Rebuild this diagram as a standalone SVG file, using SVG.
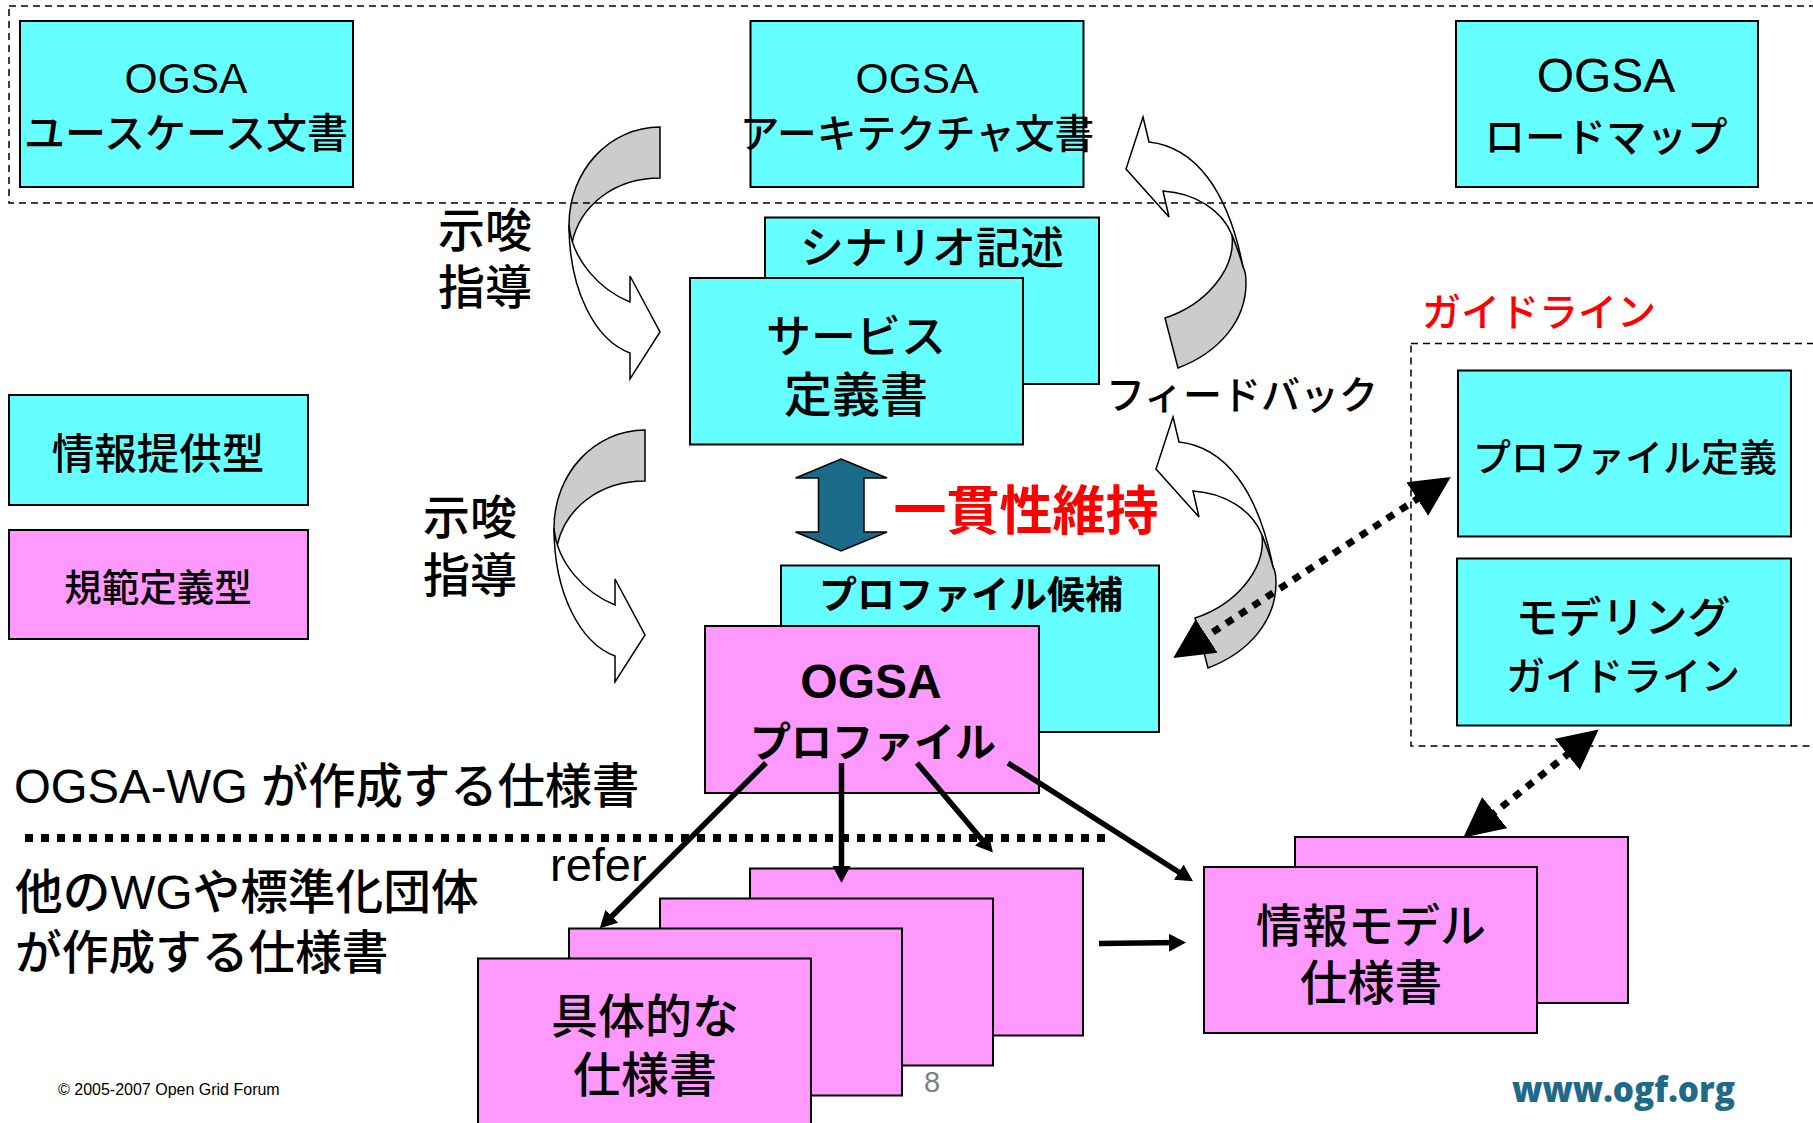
<svg xmlns="http://www.w3.org/2000/svg" width="1813" height="1123" viewBox="0 0 1813 1123">
<style>
.c{fill:#66FFFF;stroke:#000;stroke-width:2}
.p{fill:#FF99FF;stroke:#000;stroke-width:2}
text{font-family:"Liberation Sans","Noto Sans CJK JP",sans-serif;fill:#000;font-weight:500}
.m{text-anchor:middle}
text.b{font-weight:bold}
.r{fill:#FF0000}
.dash{fill:none;stroke:#000;stroke-width:1.5;stroke-dasharray:7 5}
.g{fill:#CCCCCC;stroke:#000;stroke-width:1.5}
.w{fill:#FFFFFF;stroke:#000;stroke-width:1.5}
.l{fill:none;stroke:#000;stroke-width:5.5}
.d{fill:none;stroke:#000;stroke-width:7;stroke-dasharray:8 8}
</style>
<defs>
<marker id="ah" markerUnits="userSpaceOnUse" markerWidth="18" markerHeight="20" refX="11" refY="10" orient="auto"><path d="M0,1 L17,10 L0,19 Z" fill="#000"/></marker>
<marker id="ad" markerUnits="userSpaceOnUse" markerWidth="41" markerHeight="42" refX="20" refY="21" orient="auto-start-reverse"><path d="M0,1 L40,21 L0,41 Z" fill="#000"/></marker>
<g id="cl"><path class="g" d="M660,127 C610,127 569,170 569,225 C569,232 570,238 572,243 C580,205 615,178 660,178 Z"/><path class="w" d="M569,225 C569,290 595,340 630,353 L630,379 L660,332 L630,276 L630,302 C600,290 572,260 569,225 Z"/></g>
<g id="cr"><path class="w" d="M1143,117 L1149,142 C1195,147 1228,190 1243,267 L1232,235 C1222,210 1195,193 1163,191 L1169,217 L1126,169 Z"/><path class="g" d="M1232,235 C1236,270 1205,305 1165,318 L1178,368 C1220,352 1246,320 1246,283 C1246,275 1245,270 1243,267 C1240,255 1236,245 1232,235 Z"/></g>
</defs>
<g id="connectors-curved">
<use href="#cl"/><use href="#cl" transform="translate(-15,303)"/>
<use href="#cr"/><use href="#cr" transform="translate(30,300)"/>
</g>
<rect id="group-docs" class="dash" x="9" y="6" width="1830" height="197"/>
<rect id="group-guideline" class="dash" x="1411" y="343.5" width="430" height="402.5"/>
<g id="n-usecase"><rect class="c" x="20" y="21" width="333" height="166"/><text class="m" x="186" y="93" font-size="42.5">OGSA</text><text class="m" x="186" y="148" font-size="41">ユースケース文書</text></g>
<g id="n-arch"><rect class="c" x="750.5" y="21" width="333" height="166"/><text class="m" x="917" y="93" font-size="42.5">OGSA</text><text class="m" x="917" y="148" font-size="39.7">アーキテクチャ文書</text></g>
<g id="n-road"><rect class="c" x="1456" y="21" width="302" height="166"/><text class="m" x="1606" y="92" font-size="48">OGSA</text><text class="m" x="1606" y="152" font-size="40.5">ロードマップ</text></g>
<g id="n-scenario"><rect class="c" x="765" y="217.5" width="334" height="166.5"/><text class="m" x="932" y="264" font-size="44">シナリオ記述</text></g>
<g id="n-service"><rect class="c" x="690" y="278" width="333" height="166.5"/><text class="m" x="856" y="353" font-size="45">サービス</text><text class="m" x="856" y="412" font-size="48">定義書</text></g>
<g id="n-candidate"><rect class="c" x="781" y="565.5" width="378" height="166.5"/><text class="m b" x="971" y="608" font-size="38">プロファイル候補</text></g>
<g id="n-profile"><rect class="p" x="705" y="626" width="334" height="167"/><text class="m b" x="871" y="698" font-size="48">OGSA</text><text class="m b" x="873" y="757" font-size="41">プロファイル</text></g>
<g id="n-info"><rect class="c" x="9" y="395" width="299" height="110"/><text class="m" x="158" y="469" font-size="42.5">情報提供型</text></g>
<g id="n-norm"><rect class="p" x="9" y="530" width="299" height="109"/><text class="m" x="158" y="601" font-size="37.5">規範定義型</text></g>
<g id="n-profdef"><rect class="c" x="1458" y="370.5" width="333" height="166"/><text class="m" x="1625" y="471" font-size="38">プロファイル定義</text></g>
<g id="n-model"><rect class="c" x="1457" y="558.5" width="334" height="167"/><text class="m" x="1623" y="633" font-size="43">モデリング</text><text class="m" x="1623" y="690" font-size="39">ガイドライン</text></g>
<g id="n-infomodel-back"><rect class="p" x="1295" y="837" width="333" height="166"/></g>
<g id="n-infomodel"><rect class="p" x="1204" y="867" width="333" height="166"/><text class="m" x="1371" y="942" font-size="46">情報モデル</text><text class="m" x="1371" y="1000" font-size="47.5">仕様書</text></g>
<g id="n-spec4"><rect class="p" x="750" y="868.5" width="333" height="167"/></g>
<g id="n-spec3"><rect class="p" x="660" y="898.5" width="333" height="167"/></g>
<g id="n-spec2"><rect class="p" x="569" y="928.5" width="333" height="167"/></g>
<g id="n-spec1"><rect class="p" x="478" y="958.5" width="333" height="167"/><text class="m" x="645" y="1033" font-size="47">具体的な</text><text class="m" x="645" y="1092" font-size="48">仕様書</text></g>
<g id="connectors">
<path id="dbl" d="M841,459 L887,478 L864,478 L864,532 L887,532 L841,551 L795.5,532 L818.5,532 L818.5,478 L795.5,478 Z" fill="#1A6B8A" stroke="#000" stroke-width="1.5"/>
<path class="l" marker-end="url(#ah)" d="M766,763 L604,924"/>
<path class="l" marker-end="url(#ah)" d="M841.5,763 L841.5,877"/>
<path class="l" marker-end="url(#ah)" d="M917,763 L989,848"/>
<path class="l" marker-end="url(#ah)" d="M1008,763 L1188,878"/>
<path class="l" marker-end="url(#ah)" d="M1099,943.5 L1180,942.5"/>
<path class="d" marker-start="url(#ad)" marker-end="url(#ad)" d="M1434,488 L1190,647"/>
<path class="d" marker-start="url(#ad)" marker-end="url(#ad)" d="M1583,742 L1479,825"/>
<path d="M25,838 L1113,838" fill="none" stroke="#000" stroke-width="8" stroke-dasharray="8 8"/>
</g>
<text class="m" x="485" y="247" font-size="47">示唆</text>
<text class="m" x="485" y="304" font-size="47">指導</text>
<text class="m" x="470" y="534" font-size="47">示唆</text>
<text class="m" x="470" y="592" font-size="47">指導</text>
<text class="m" x="1242" y="409" font-size="39">フィードバック</text>
<text class="m r" x="1539" y="326" font-size="39">ガイドライン</text>
<text class="m b r" x="1026" y="530" font-size="53">一貫性維持</text>
<text x="14" y="803" font-size="47.3">OGSA-WG が作成する仕様書</text>
<text x="15" y="909" font-size="47.7">他のWGや標準化団体</text>
<text x="15" y="969" font-size="46.7">が作成する仕様書</text>
<text x="550" y="881" font-size="47">refer</text>
<text class="m" x="932" y="1092" font-size="29" style="fill:#808080">8</text>
<text x="58" y="1095" font-size="16">© 2005-2007 Open Grid Forum</text>
<text x="1512" y="1102" font-size="36" textLength="223" lengthAdjust="spacingAndGlyphs" style="font-family:'Open Sans',sans-serif;fill:#1F6A8A;font-weight:800">www.ogf.org</text>
</svg>
